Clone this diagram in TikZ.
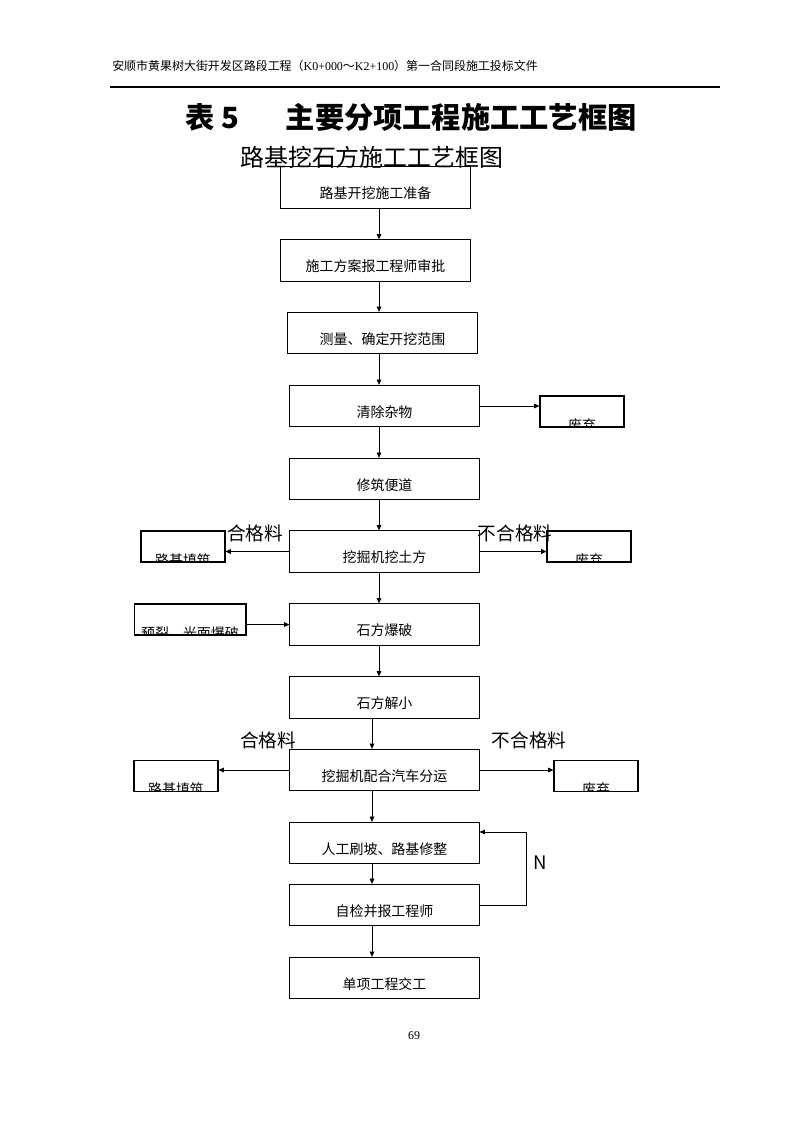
\documentclass[tikz,border=0pt]{standalone}
\usepackage{fontspec}
\setmainfont{Noto Sans CJK SC}
\newfontfamily\timesfont{Liberation Serif}
\usepackage{tikz}
\usetikzlibrary{arrows.meta,positioning}

\begin{document}
\begin{tikzpicture}[x=0.02645cm, y=-0.02645cm,
    stepbox/.style={rectangle, draw, line width=0.8pt, minimum width=5cm, minimum height=1.09cm, inner sep=0pt, text height=17pt, text depth=0pt, font=\fontsize{10.5}{12}\selectfont},
    sidebox/.style={rectangle, draw, line width=0.8pt, minimum width=2.22cm, minimum height=0.82cm, inner sep=0pt,
        path picture={\node[draw=none, minimum width=0pt, minimum height=0pt, anchor=base, inner sep=0pt, font=\fontsize{10.5}{12}\selectfont] at ([yshift=-2.5pt]path picture bounding box.south) {#1};}},
    arrow/.style={-{Triangle[length=4pt,width=3.5pt]}, line width=0.6pt},
    thickarrow/.style={-{Triangle[length=4pt,width=3.5pt]}, line width=1.3pt},
    lbl/.style={inner sep=0pt, font=\fontsize{14}{16}\selectfont}
]
\useasboundingbox (0,0) rectangle (794,1123);

% Page header
\node[anchor=west, inner sep=0pt, font=\fontsize{9}{11}\selectfont] (header) at (112,66) {安顺市黄果树大街开发区路段工程（{\timesfont K0+000}～{\timesfont K2+100}）第一合同段施工投标文件};
\draw[line width=0.8pt] (110,87) -- (720,87);

% Titles
\node[anchor=west, inner sep=0pt, font=\fontsize{22}{26}\selectfont\bfseries] (title) at (185,117) {表 5\hspace{1.6em}主要分项工程施工工艺框图};
\node[anchor=west, inner sep=0pt, font=\fontsize{18}{22}\selectfont] (subtitle) at (240,157) {路基挖石方施工工艺框图};

% Main steps
\node[stepbox] at (375.5,187.5) (prep) {路基开挖施工准备};
\node[stepbox] at (375.5,260.5) (plan) {施工方案报工程师审批};
\node[stepbox] at (382.5,333) (survey) {测量、确定开挖范围};
\node[stepbox] at (384.5,406) (clear) {清除杂物};
\node[stepbox] at (384.5,479) (road) {修筑便道};
\node[stepbox] at (384.5,551.5) (dig) {挖掘机挖土方};
\node[stepbox] at (384.5,624.5) (blast) {石方爆破};
\node[stepbox] at (384.5,697.5) (split) {石方解小};
\node[stepbox] at (384.5,770) (haul) {挖掘机配合汽车分运};
\node[stepbox] at (384.5,843) (trim) {人工刷坡、路基修整};
\node[stepbox] at (384.5,905) (check) {自检并报工程师};
\node[stepbox] at (384.5,978) (handover) {单项工程交工};

% Side boxes
\node[sidebox=废弃] at (582,411.5) (waste1) {};
\node[sidebox=路基填筑] at (183,546.5) (fill1) {};
\node[sidebox=废弃] at (589,546.5) (waste2) {};
\node[sidebox=预裂、光面爆破, minimum width=2.96cm] at (190,619.5) (presplit) {};
\node[sidebox=路基填筑] at (176,776) (fill2) {};
\node[sidebox=废弃] at (596,776) (waste3) {};

% Arrows
\coordinate (upper) at (379,0);
\coordinate (lower) at (372,0);
\draw[arrow] (prep.south -| upper) -- (plan.north -| upper);
\draw[arrow] (plan.south -| upper) -- (survey.north -| upper);
\draw[arrow] (survey.south -| upper) -- (clear.north -| upper);
\draw[arrow] (clear.south -| upper) -- (road.north -| upper);
\draw[arrow] (road.south -| upper) -- (dig.north -| upper);
\draw[arrow] (dig.south -| upper) -- (blast.north -| upper);
\draw[arrow] (blast.south -| upper) -- (split.north -| upper);
\draw[arrow] (split.south -| lower) -- (haul.north -| lower);
\draw[arrow] (haul.south -| lower) -- (trim.north -| lower);
\draw[arrow] (trim.south -| lower) -- (check.north -| lower);
\draw[arrow] (check.south -| lower) -- (handover.north -| lower);

% Side arrows
\draw[arrow] (clear.east) -- (clear.east -| waste1.west);
\draw[thickarrow] (dig.west) -- (dig.west -| fill1.east);
\draw[thickarrow] (dig.east) -- (dig.east -| waste2.west);
\draw[thickarrow] (presplit.east |- blast.west) -- (blast.west);
\draw[arrow] (haul.west) -- (haul.west -| fill2.east);
\draw[arrow] (haul.east) -- (haul.east -| waste3.west);

% Rework loop
\coordinate (loopturn) at (526,832);
\draw[arrow] (check.east) -| (loopturn) -- (loopturn -| trim.east);

% Labels
\node[lbl] at (255,533) (ok1) {合格料};
\node[lbl] at (515,533) (bad1) {不合格料};
\node[lbl] at (268,740) (ok2) {合格料};
\node[lbl] at (529,740) (bad2) {不合格料};
\node[lbl] at (540,863) (no) {N};

% Page number
\node[font=\timesfont\fontsize{9}{11}\selectfont] at (414,1036) (page) {69};

\end{tikzpicture}
\end{document}
